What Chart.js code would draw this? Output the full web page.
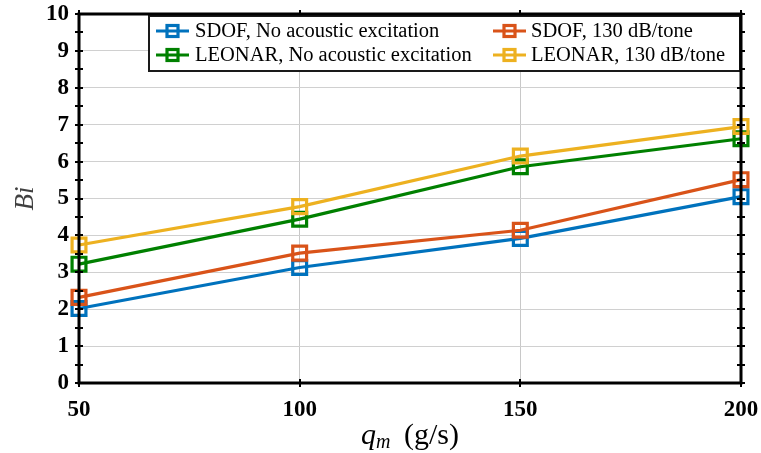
<!DOCTYPE html>
<html>
<head>
<meta charset="utf-8">
<script src="https://cdn.jsdelivr.net/npm/chart.js@4/dist/chart.umd.min.js"></script>
<style>
html,body{margin:0;padding:0;background:#fff;}
#wrap{width:761px;height:453px;position:relative;}
</style>
</head>
<body>
<div id="wrap"><canvas id="c" width="761" height="453"></canvas></div>
<script>
const massFlow = [50, 100, 150, 200];
const sdofNoExc = [2.02, 3.13, 3.92, 5.05];
const sdof130 = [2.32, 3.52, 4.14, 5.51];
const leonarNoExc = [3.22, 4.44, 5.86, 6.62];
const leonar130 = [3.74, 4.78, 6.15, 6.95];
const seriesLabels = ['SDOF, No acoustic excitation', 'SDOF, 130 dB/tone', 'LEONAR, No acoustic excitation', 'LEONAR, 130 dB/tone'];
const seriesColors = ['#0072BD', '#D95319', '#008000', '#EDB120'];
const yTicks = [0,1,2,3,4,5,6,7,8,9,10];
const xTicks = [50,100,150,200];

const serif = '"Liberation Serif", "DejaVu Serif", serif';
const allSeries = [sdofNoExc, sdof130, leonarNoExc, leonar130];
const drawOrder = [3, 1, 2, 0];

const datasets = allSeries.map((vals, i) => ({
  label: seriesLabels[i],
  data: massFlow.map((x, j) => ({x: x, y: vals[j]})),
  borderColor: seriesColors[i],
  backgroundColor: 'rgba(0,0,0,0)',
  borderWidth: 3.2,
  pointStyle: 'rect',
  pointRadius: 9.8,
  pointHoverRadius: 9.8,
  pointBorderWidth: 3.2,
  pointBackgroundColor: 'rgba(0,0,0,0)',
  pointBorderColor: seriesColors[i],
  tension: 0,
  order: drawOrder[i],
  clip: false
}));

const framePlugin = {
  id: 'frame',
  afterDatasetsDraw(chart) {
    const ctx = chart.ctx;
    const a = chart.chartArea;
    const xs = chart.scales.x, ys = chart.scales.y;
    ctx.save();
    ctx.strokeStyle = '#000';
    ctx.lineWidth = 2;
    ctx.beginPath();
    for (let v = 0; v <= 10; v += 0.5) {
      const y = Math.round(ys.getPixelForValue(v));
      ctx.moveTo(a.left - 4, y); ctx.lineTo(a.left + 4, y);
      ctx.moveTo(a.right - 4, y); ctx.lineTo(a.right + 4, y);
    }
    xTicks.forEach(v => {
      const x = Math.round(xs.getPixelForValue(v));
      ctx.moveTo(x, a.bottom - 4); ctx.lineTo(x, a.bottom + 4);
      ctx.moveTo(x, a.top - 4); ctx.lineTo(x, a.top + 4);
    });
    ctx.stroke();
    ctx.restore();
  },
  afterDraw(chart) {
    const ctx = chart.ctx;
    const a = chart.chartArea;
    ctx.save();
    const lx = 148, ly = a.top + 1, lw = a.right - 148, lh = 57;
    ctx.fillStyle = '#fff';
    ctx.fillRect(lx, ly, lw, lh);
    ctx.strokeStyle = '#1a1a1a';
    ctx.lineWidth = 2;
    ctx.strokeRect(lx + 1, ly + 1, lw - 2, lh - 2);
    const pos = [
      {ix: 156, tx: 195, y: ly + 16},
      {ix: 493, tx: 531, y: ly + 16},
      {ix: 156, tx: 195, y: ly + 40},
      {ix: 493, tx: 531, y: ly + 40}
    ];
    chart.data.datasets.forEach((ds, i) => {
      const p = pos[i];
      ctx.strokeStyle = ds.borderColor;
      ctx.lineWidth = 3.2;
      ctx.beginPath();
      ctx.moveTo(p.ix, p.y); ctx.lineTo(p.ix + 33, p.y);
      ctx.stroke();
      ctx.strokeRect(p.ix + 11, p.y - 5.5, 11, 11);
      ctx.fillStyle = '#000';
      ctx.font = '20.5px ' + serif;
      ctx.textBaseline = 'middle';
      ctx.textAlign = 'left';
      ctx.fillText(ds.label, p.tx, p.y + 1);
    });
    ctx.strokeStyle = '#000';
    ctx.lineWidth = 3;
    ctx.strokeRect(a.left, a.top, a.right - a.left, a.bottom - a.top);
    ctx.fillStyle = '#000';
    ctx.textBaseline = 'alphabetic';
    ctx.textAlign = 'left';
    const f1 = 'italic 30px ' + serif, f2 = 'italic 20px ' + serif, f3 = '30px ' + serif;
    ctx.font = f1; const w1 = ctx.measureText('q').width;
    ctx.font = f2; const w2 = ctx.measureText('m').width;
    ctx.font = f3; const w3 = ctx.measureText(' (g/s)').width + 6;
    let x0 = (a.left + a.right) / 2 - (w1 + w2 + w3) / 2;
    const by = 444;
    ctx.font = f1; ctx.fillText('q', x0, by); x0 += w1;
    ctx.font = f2; ctx.fillText('m', x0, by + 4); x0 += w2 + 6;
    ctx.font = f3; ctx.fillText(' (g/s)', x0, by);
    ctx.restore();
  }
};

new Chart(document.getElementById('c'), {
  type: 'line',
  data: { datasets: datasets },
  options: {
    responsive: false,
    animation: false,
    devicePixelRatio: 1,
    layout: { padding: { left: 0, right: 20, top: 14, bottom: 0 } },
    plugins: { legend: { display: false }, tooltip: { enabled: false } },
    scales: {
      x: {
        type: 'linear', min: 50, max: 200,
        afterBuildTicks(s) { s.ticks = xTicks.map(v => ({value: v})); },
        afterFit(s) { s.height = 70; s.paddingLeft = 0; s.paddingRight = 0; },
        grid: { color: '#c8c8c8', lineWidth: 1, drawTicks: false },
        border: { display: false },
        ticks: { color: '#000', font: { family: serif, size: 23, weight: 'bold' }, padding: 13, maxRotation: 0 },
        title: { display: false }
      },
      y: {
        type: 'linear', min: 0, max: 10,
        ticks: {
          stepSize: 0.5,
          color: '#000',
          font: { family: serif, size: 23, weight: 'bold' },
          padding: 10,
          callback: v => (yTicks.includes(v) ? String(v) : '')
        },
        afterFit(s) { s.width = 79; s.paddingTop = 0; s.paddingBottom = 0; },
        grid: { color: '#d0d0d0', lineWidth: 1, drawTicks: false },
        border: { display: false },
        title: { display: true, text: 'Bi', color: '#404040', font: { family: serif, size: 27, style: 'italic' }, padding: { top: 10, bottom: 0 } }
      }
    }
  },
  plugins: [framePlugin]
});
</script>
</body>
</html>
